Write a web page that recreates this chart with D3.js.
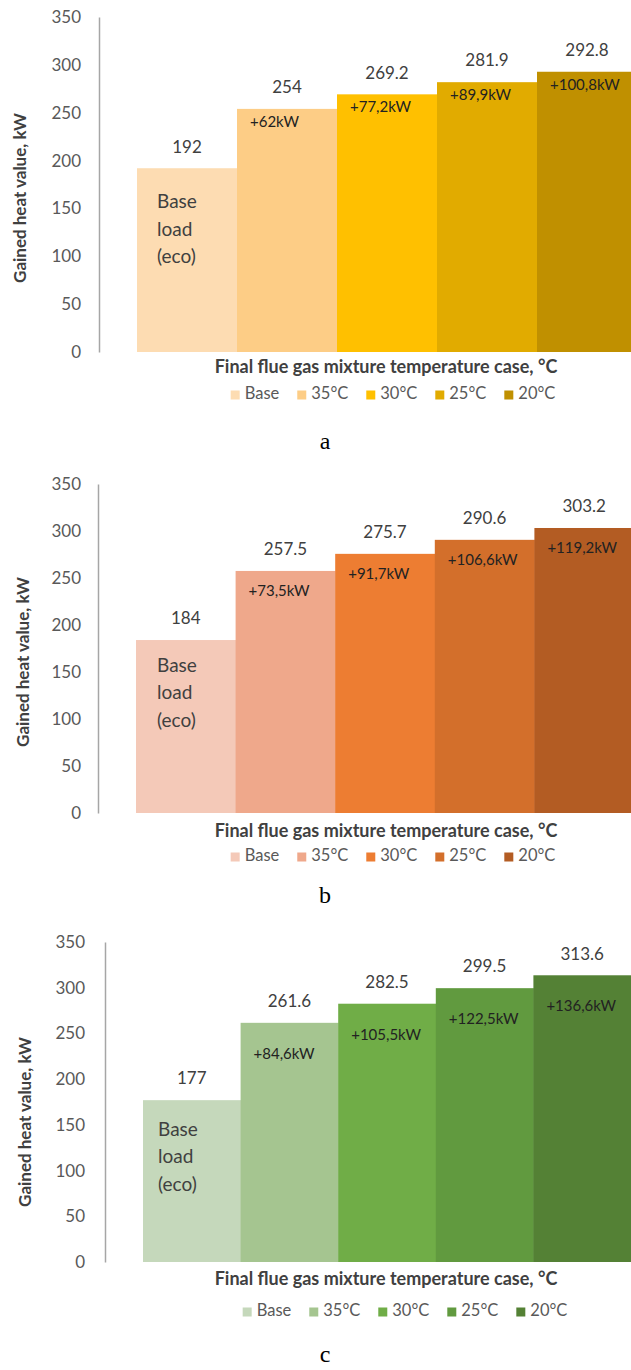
<!DOCTYPE html>
<html>
<head>
<meta charset="utf-8">
<script src="https://cdn.jsdelivr.net/npm/d3@7"></script>
<style>
  html, body { margin: 0; padding: 0; background: #ffffff; }
  svg { display: block; }
  text { font-family: Lato, "Open Sans", sans-serif; }
</style>
</head>
<body>
<script>
// Gained heat value per final flue gas mixture temperature case, three scenarios
const categories = ["Base", "35°C", "30°C", "25°C", "20°C"];
const valuesA = [192, 254, 269.2, 281.9, 292.8];
const valuesB = [184, 257.5, 275.7, 290.6, 303.2];
const valuesC = [177, 261.6, 282.5, 299.5, 313.6];
const colorsA = ["#fddcb2", "#fdcd86", "#ffc000", "#e1ab00", "#c09000"];
const colorsB = ["#f4c9b8", "#efa88b", "#ed7d32", "#d36f2b", "#b35c23"];
const colorsC = ["#c5d8bb", "#a5c590", "#70ad47", "#619a3f", "#548135"];
const yTicks = [0, 50, 100, 150, 200, 250, 300, 350];
const panelLetters = ["a", "b", "c"];
const baseNote = ["Base", "load", "(eco)"];
const xTitle = "Final flue gas mixture temperature case, °C";
const yTitle = "Gained heat value, kW";

const W = 631, H = 1370;

// Frame of each panel on the page
const layouts = [
  { axisX: 99, y0: 352, yTop: 17, barLeft: 137, barRight: 637, tickRight: 81, yTitleX: 22, yTitleY: 198,
    xTitleY: 368, legendY: 395, legendCx: 393, letterY: 449, incOffset: 14, noteOffset: 35, noteX: 20 },
  { axisX: 98, y0: 813, yTop: 484, barLeft: 136, barRight: 634, tickRight: 81, yTitleX: 25, yTitleY: 662,
    xTitleY: 832, legendY: 857, legendCx: 393, letterY: 903, incOffset: 21, noteOffset: 27, noteX: 21 },
  { axisX: 105, y0: 1262, yTop: 942, barLeft: 143, barRight: 631, tickRight: 85, yTitleX: 27, yTitleY: 1122,
    xTitleY: 1280, legendY: 1312, legendCx: 405, letterY: 1362, incOffset: 32, noteOffset: 31, noteX: 15 }
];

const panels = [
  { values: valuesA, colors: colorsA },
  { values: valuesB, colors: colorsB },
  { values: valuesC, colors: colorsC }
];

const svg = d3.select("body").append("svg")
  .attr("width", W).attr("height", H)
  .attr("viewBox", `0 0 ${W} ${H}`);

svg.append("defs").append("clipPath").attr("id", "page")
  .append("rect").attr("x", 0).attr("y", 0).attr("width", W).attr("height", H);

const fmtInc = v => "+" + (Math.round(v * 10) / 10).toString().replace(".", ",") + "kW";

panels.forEach((p, i) => {
  const L = layouts[i];
  const g = svg.append("g").attr("clip-path", "url(#page)");

  const x = d3.scaleBand().domain(categories).range([L.barLeft, L.barRight]).padding(0);
  const y = d3.scaleLinear().domain([0, 350]).range([L.y0, L.yTop]);
  const color = d3.scaleOrdinal().domain(categories).range(p.colors);

  const rows = categories.map((c, k) => ({ cat: c, value: p.values[k] }));

  // Bars
  g.selectAll("rect.bar").data(rows).join("rect")
    .attr("class", "bar")
    .attr("x", d => x(d.cat))
    .attr("width", x.bandwidth() + 0.5)
    .attr("y", d => y(d.value))
    .attr("height", d => y(0) - y(d.value))
    .attr("fill", d => color(d.cat));

  // Y axis: line plus labels, no tick marks
  const yAxis = d3.axisLeft(y).tickValues(yTicks).tickSize(0).tickPadding(L.axisX - L.tickRight);
  const ax = g.append("g").attr("transform", `translate(${L.axisX},0)`).call(yAxis);
  ax.select(".domain").attr("stroke", "#a6a6a6").attr("stroke-width", 1.5);
  ax.selectAll(".tick text")
    .attr("fill", "#595959")
    .style("font-family", "Lato, 'Open Sans', sans-serif")
    .style("font-size", "17px");

  // Y axis title
  g.append("text")
    .attr("transform", `translate(${L.yTitleX},${L.yTitleY}) rotate(-90)`)
    .attr("text-anchor", "middle")
    .attr("dominant-baseline", "middle")
    .attr("fill", "#404040")
    .style("font-weight", "bold")
    .style("font-size", "17px")
    .text(yTitle);

  // Value labels above bars
  g.selectAll("text.val").data(rows).join("text")
    .attr("class", "val")
    .attr("x", d => x(d.cat) + x.bandwidth() / 2)
    .attr("y", d => y(d.value) - 20)
    .attr("text-anchor", "middle")
    .attr("dominant-baseline", "middle")
    .attr("fill", "#404040")
    .style("font-size", "17px")
    .text(d => String(d.value));

  // Increment over the base case inside each non-base bar
  const base = p.values[0];
  g.selectAll("text.inc").data(rows.slice(1)).join("text")
    .attr("class", "inc")
    .attr("x", d => x(d.cat) + 13)
    .attr("y", d => y(d.value) + L.incOffset)
    .attr("dominant-baseline", "middle")
    .attr("fill", "#222222")
    .style("font-size", "15px")
    .text(d => fmtInc(d.value - base));

  // Note inside the base bar
  g.selectAll("text.note").data(baseNote).join("text")
    .attr("class", "note")
    .attr("x", x(categories[0]) + L.noteX)
    .attr("y", (d, k) => y(base) + L.noteOffset + k * 27.5)
    .attr("dominant-baseline", "middle")
    .attr("fill", "#404040")
    .style("font-size", "19px")
    .text(d => d);

  // X axis title
  g.append("text")
    .attr("x", 386)
    .attr("y", L.xTitleY)
    .attr("text-anchor", "middle")
    .attr("dominant-baseline", "middle")
    .attr("fill", "#404040")
    .style("font-weight", "bold")
    .style("font-size", "18px")
    .text(xTitle);

  // Legend, laid out from measured label widths
  const sq = 9, gapIn = 5, gapOut = 18;
  const leg = g.append("g");
  const items = leg.selectAll("g").data(categories).join("g");
  items.append("rect")
    .attr("width", sq).attr("height", sq)
    .attr("y", L.legendY - sq / 2)
    .attr("fill", d => color(d));
  items.append("text")
    .attr("x", sq + gapIn)
    .attr("y", L.legendY)
    .attr("dominant-baseline", "middle")
    .attr("fill", "#595959")
    .style("font-size", "16.5px")
    .text(d => d);
  const widths = [];
  items.each(function () { widths.push(sq + gapIn + d3.select(this).select("text").node().getComputedTextLength()); });
  const total = d3.sum(widths) + gapOut * (widths.length - 1);
  let cx = L.legendCx - total / 2;
  items.each(function (d, k) {
    d3.select(this).attr("transform", `translate(${cx},0)`);
    cx += widths[k] + gapOut;
  });

  // Panel letter
  svg.append("text")
    .attr("x", 325)
    .attr("y", L.letterY)
    .attr("text-anchor", "middle")
    .attr("fill", "#000000")
    .style("font-family", "'Liberation Serif', 'DejaVu Serif', serif")
    .style("font-size", "24px")
    .text(panelLetters[i]);
});
</script>
</body>
</html>
